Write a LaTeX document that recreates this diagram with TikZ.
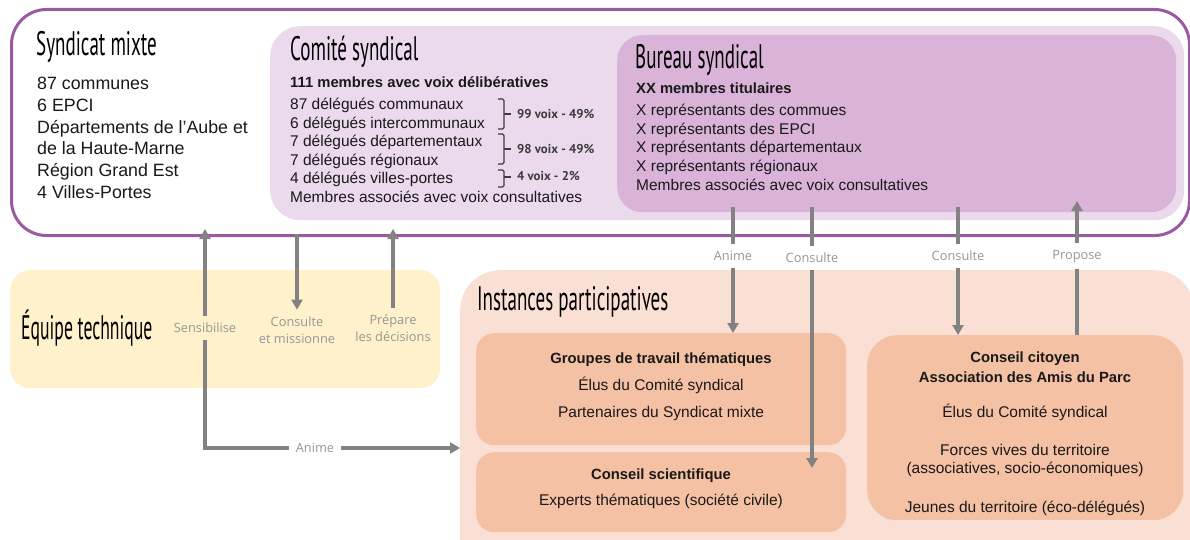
\documentclass[tikz,border=0pt]{standalone}
\usepackage{fontspec}
\usepackage{graphicx}
\setmainfont{Liberation Sans}
\newfontfamily\titlefont{PT Sans}
\newfontfamily\lblfont{Open Sans}
\newfontfamily\bracefont{PT Sans Bold}
\usetikzlibrary{arrows.meta}
\definecolor{outerpurple}{RGB}{155,89,160}
\definecolor{comitebg}{RGB}{235,218,236}
\definecolor{bureaubg}{RGB}{217,180,216}
\definecolor{equipebg}{RGB}{254,241,204}
\definecolor{instbg}{RGB}{250,224,212}
\definecolor{innerbox}{RGB}{245,193,164}
\definecolor{arrgray}{RGB}{130,130,130}
\definecolor{lblgray}{RGB}{150,150,150}
\definecolor{txtdark}{RGB}{25,25,25}
\newcommand\ttltext[2][0.56]{\scalebox{#1}[1]{#2}}
\begin{document}
\begin{tikzpicture}[x=1pt,y=-1pt,
  box/.style={draw=none, inner sep=0pt, anchor=north west},
  ttl/.style={anchor=west, inner sep=0pt, text=black, font=\titlefont\fontsize{34}{34}\selectfont},
  txt/.style={anchor=base west, inner sep=0pt, text=txtdark, font=\fontsize{17.8}{20}\selectfont},
  sm/.style={anchor=base west, inner sep=0pt, text=txtdark, font=\fontsize{15.5}{17}\selectfont},
  smb/.style={sm, font=\bfseries\fontsize{14.8}{17}\selectfont},
  smc/.style={sm, anchor=base},
  smcb/.style={smb, anchor=base},
  brl/.style={anchor=base west, inner sep=0pt, text=txtdark!85, font=\bracefont\fontsize{12.8}{14}\selectfont},
  brc/.style={draw=txtdark!85, line width=1.1pt, rounded corners=1.5pt},
  lbl/.style={inner sep=7pt, text=lblgray, align=center, font=\lblfont\fontsize{12.8}{16.5}\selectfont},
  ln/.style={draw=arrgray, line width=3.6pt},
  arr/.style={ln, -{Triangle[length=10pt,width=11pt]}}
]
\clip (0,0) rectangle (1190,540);
\fill[white] (0,0) rectangle (1190,540);

% ---------- boxes ----------
\node[box, draw=outerpurple, line width=3pt, fill=white, rounded corners=35pt,
      minimum width=1178, minimum height=226] (sm) at (10,8) {};
\node[box, fill=comitebg, rounded corners=30pt, minimum width=914, minimum height=194] (cs) at (270,26) {};
\node[box, fill=bureaubg, rounded corners=25pt, minimum width=559, minimum height=177] (bs) at (617,35) {};
\node[box, fill=equipebg, rounded corners=20pt, minimum width=430, minimum height=118] (et) at (10,270) {};
\node[box, fill=instbg, rounded corners=40pt, minimum width=734, minimum height=320] (inst) at (460,270) {};
\node[box, fill=innerbox, rounded corners=18pt, minimum width=370, minimum height=112] (gt) at (476,333) {};
\node[box, fill=innerbox, rounded corners=18pt, minimum width=370, minimum height=80] (csc) at (476,452) {};
\node[box, fill=innerbox, rounded corners=30pt, minimum width=316, minimum height=185] (cc) at (867,335) {};

% ---------- Syndicat mixte ----------
\node[ttl] (tSM) at (36,47) {\ttltext{Syndicat mixte}};
\node[txt] (sm1) at (37,90) {87 communes};
\node[txt] (sm2) at (37,111.6) {6 EPCI};
\node[txt] (sm3) at (37,133.2) {Départements de l’Aube et};
\node[txt] (sm4) at (37,154.8) {de la Haute-Marne};
\node[txt] (sm5) at (37,176.4) {Région Grand Est};
\node[txt] (sm6) at (37,198) {4 Villes-Portes};

% ---------- Comité syndical ----------
\node[ttl] (tCS) at (290,52) {\ttltext{Comité syndical}};
\node[smb] (cs0) at (290,88) {111 membres avec voix délibératives};
\node[sm] (cs1) at (290,110) {87 délégués communaux};
\node[sm] (cs2) at (290,128.4) {6 délégués intercommunaux};
\node[sm] (cs3) at (290,146.8) {7 délégués départementaux};
\node[sm] (cs4) at (290,165.2) {7 délégués régionaux};
\node[sm] (cs5) at (290,183.6) {4 délégués villes-portes};
\node[sm] (cs6) at (290,202) {Membres associés avec voix consultatives};

\coordinate (b1t) at (498,99);  \coordinate (b1b) at (498,129);
\coordinate (b2t) at (498,134); \coordinate (b2b) at (498,164);
\coordinate (b3t) at (498,170); \coordinate (b3b) at (498,187);
\draw[brc] (b1t) -- ++(6,0) -- ++(0,30) -- (b1b);
\draw[brc] (b2t) -- ++(6,0) -- ++(0,30) -- (b2b);
\draw[brc] (b3t) -- ++(6,0) -- ++(0,17) -- (b3b);
\node[brl] (v1) at (517,118.5) {99 voix - 49\%};
\node[brl] (v2) at (517,153.5) {98 voix - 49\%};
\node[brl] (v3) at (517,181) {4 voix - 2\%};
\coordinate (k1) at (511,114);
\coordinate (k2) at (511,149);
\coordinate (k3) at (511,177);
\draw[brc] (504,114) -- (k1);
\draw[brc] (504,149) -- (k2);
\draw[brc] (504,177) -- (k3);

% ---------- Bureau syndical ----------
\node[ttl] (tBS) at (635,60) {\ttltext{Bureau syndical}};
\node[smb] (bs0) at (636,94) {XX membres titulaires};
\node[sm] (bs1) at (636,116) {X représentants des commues};
\node[sm] (bs2) at (636,134.5) {X représentants des EPCI};
\node[sm] (bs3) at (636,153) {X représentants départementaux};
\node[sm] (bs4) at (636,171.5) {X représentants régionaux};
\node[sm] (bs5) at (636,190) {Membres associés avec voix consultatives};

% ---------- Equipe technique ----------
\node[ttl] (tET) at (21,328) {\ttltext[0.52]{Équipe technique}};

% ---------- Instances participatives ----------
\node[ttl] (tIP) at (477,302) {\ttltext{Instances participatives}};
\node[smcb] (gt0) at (661,363) {Groupes de travail thématiques};
\node[smc] (gt1) at (661,390) {Élus du Comité syndical};
\node[smc] (gt2) at (661,417) {Partenaires du Syndicat mixte};
\node[smcb] (csc0) at (661,479) {Conseil scientifique};
\node[smc] (csc1) at (661,505) {Experts thématiques (société civile)};
\node[smcb] (cc0) at (1025,362) {Conseil citoyen};
\node[smcb] (cc1) at (1025,382) {Association des Amis du Parc};
\node[smc] (cc2) at (1025,417) {Élus du Comité syndical};
\node[smc] (cc3) at (1025,455) {Forces vives du territoire};
\node[smc] (cc4) at (1025,473) {(associatives, socio-économiques)};
\node[smc] (cc5) at (1025,512) {Jeunes du territoire (éco-délégués)};

% ---------- connectors: left ----------
\node[lbl] (lSe) at (205,328) {Sensibilise};
\node[lbl] (lCM) at (297,330) {Consulte\\et missionne};
\node[lbl] (lPr) at (393,328) {Prépare\\les décisions};
\node[lbl] (lAn) at (315,448) {Anime};
\coordinate (topSe) at (205,229);
\coordinate (topCM) at (297,234);
\coordinate (topPr) at (393,229);
\draw[arr] (lSe.north) -- (topSe);
\draw[arr] (topCM) -- (lCM.north);
\draw[arr] (lPr.north) -- (topPr);
\draw[ln] (lSe.south) -- (lSe.south |- lAn) -- (lAn.west);
\draw[arr] (lAn.east) -- (lAn -| inst.west);

% ---------- connectors: right ----------
\node[lbl] (lA) at (733,256) {Anime};
\node[lbl] (lC1) at (812,258) {Consulte};
\node[lbl] (lC2) at (958,256) {Consulte};
\node[lbl] (lP) at (1077,256) {Propose};
\coordinate (sA) at (733,207);
\coordinate (sC1) at (812,207);
\coordinate (sC2) at (958,207);
\coordinate (eC1) at (812,468);
\coordinate (eP) at (1077,201);
\draw[ln] (sA) -- (lA.north);
\draw[arr] (lA.south) -- (lA.south |- gt.north);
\draw[ln] (sC1) -- (lC1.north);
\draw[arr] (lC1.south) -- (eC1);
\draw[ln] (sC2) -- (lC2.north);
\draw[arr] (lC2.south) -- (lC2.south |- cc.north);
\draw[ln] (lP.south |- cc.north) -- (lP.south);
\draw[arr] (lP.north) -- (eP);
\end{tikzpicture}
\end{document}
